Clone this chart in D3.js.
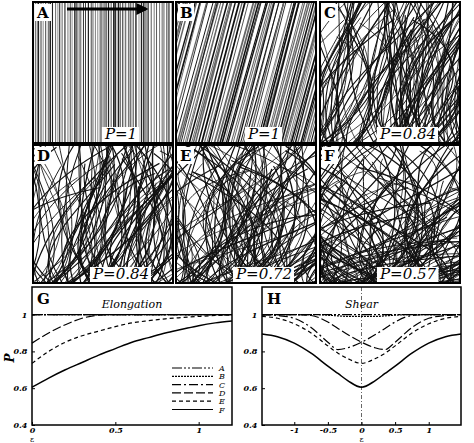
<!DOCTYPE html>
<html><head><meta charset="utf-8">
<script src="https://cdn.jsdelivr.net/npm/d3@7"></script>
<style>body{margin:0;background:#fff}svg,svg text{font-family:"DejaVu Serif","Liberation Serif",serif}</style>
</head><body><svg id="c" width="474" height="443"></svg>
<script>
// ---- data ----
const panels = ["A","B","C","D","E","F"];
const panelP = ["P=1","P=1","P=0.84","P=0.84","P=0.72","P=0.57"];
const seriesNames = ["A","B","C","D","E","F"];
const dashes = ["10,2,2,2,2,2","2,1","9,3,2,3","9,3","4,3",null];
const elongX = [0,0.1,0.2,0.3,0.4,0.5,0.6,0.7,0.8,0.9,1.0,1.1,1.2];
const elongA = [1,1,1,1,1,1,1,1,1,1,1,1,1];
const elongB = [1,1,1,1,1,1,1,1,1,1,1,1,1];
const elongC = [1,1,1,1,1,1,1,1,1,1,1,1,1];
const elongD = [0.845,0.9,0.945,0.98,0.997,1,1,1,1,1,1,1,1];
const elongE = [0.735,0.8,0.85,0.885,0.91,0.935,0.955,0.967,0.977,0.984,0.99,0.995,0.998];
const elongF = [0.605,0.655,0.7,0.74,0.78,0.815,0.85,0.875,0.9,0.92,0.94,0.955,0.965];
const shearX = [-1.48,-1.25,-1,-0.75,-0.5,-0.35,-0.2,0,0.2,0.35,0.5,0.75,1,1.25,1.48];
const shearA = [1,1,1,1,1,1,1,1,1,1,1,1,1,1,1];
const shearB = [1,1,1,1,0.997,0.993,0.99,0.99,0.99,0.993,0.997,1,1,1,1];
const shearC = [1,0.995,0.98,0.93,0.85,0.81,0.82,0.85,0.89,0.925,0.96,0.995,1,1,1];
const shearD = [1,1,1,0.995,0.96,0.925,0.89,0.85,0.82,0.81,0.85,0.93,0.98,0.995,1];
const shearE = [0.99,0.98,0.95,0.9,0.83,0.79,0.76,0.735,0.76,0.79,0.83,0.9,0.95,0.98,0.99];
const shearF = [0.895,0.88,0.845,0.79,0.72,0.68,0.64,0.605,0.64,0.68,0.72,0.79,0.845,0.88,0.895];
const yTicks = [0.4,0.6,0.8,1];
const elongTicks = [0,0.5,1];
const shearTicks = [-1,-0.5,0,0.5,1];

const svg = d3.select("#c");
// seeded generator only for fiber texture
let seed = 12345;
function rnd(){ seed = (seed*1103515245+12345) % 2147483648; return seed/2147483648; }

const cols = [33,176,320], rows=[2,145], pw=140, ph=[141,138];
const defs = svg.append("defs");
panels.forEach((p,i)=>{
  const x0=cols[i%3], y0=rows[Math.floor(i/3)], h=ph[Math.floor(i/3)];
  defs.append("clipPath").attr("id","cp"+i).append("rect").attr("x",x0).attr("y",y0).attr("width",pw).attr("height",h);
  const g=svg.append("g").attr("clip-path","url(#cp"+i+")");
  g.append("rect").attr("x",x0).attr("y",y0).attr("width",pw).attr("height",h).attr("fill","#fff");
  if(i===0){
    for(let x=x0;x<x0+pw;x+=1.6+rnd()*1.6){
      g.append("line").attr("x1",x).attr("x2",x).attr("y1",y0).attr("y2",y0+h)
       .attr("stroke",rnd()<0.5?"#222":"#777").attr("stroke-width",0.6+rnd()*1.2);
    }
  } else if(i===1){
    for(let x=x0-50;x<x0+pw+10;x+=1.5+rnd()*1.8){
      const dx=36+rnd()*4;
      g.append("line").attr("x1",x).attr("x2",x+dx).attr("y1",y0+h).attr("y2",y0)
       .attr("stroke",rnd()<0.5?"#111":"#666").attr("stroke-width",0.6+rnd()*1.2);
    }
  } else {
    const disorder=[0,0,0.35,0.4,0.8,1.1][i];
    const n=[0,0,150,140,170,200][i];
    for(let k=0;k<n;k++){
      const sx=x0-30+rnd()*(pw+50), sy=y0+h+15;
      const ang=0.25+(rnd()-0.5)*disorder*2.2;
      const len=h*(0.9+rnd()*0.8);
      const bend=(rnd()<0.5?-1:1)*(30+rnd()*50)*(0.6+disorder);
      const ex=sx+Math.sin(ang)*len, ey=sy-Math.cos(ang)*len;
      const c1x=sx+(ex-sx)*0.3+bend, c1y=sy+(ey-sy)*0.3;
      const c2x=sx+(ex-sx)*0.7+bend*(rnd()*1.4-0.2), c2y=sy+(ey-sy)*0.7+(rnd()-0.5)*50*disorder;
      g.append("path").attr("d",`M${sx},${sy}C${c1x},${c1y} ${c2x},${c2y} ${ex},${ey}`)
       .attr("fill","none").attr("stroke","#111").attr("stroke-width",0.7+rnd()*0.6);
    }
  }
  svg.append("rect").attr("x",x0).attr("y",y0).attr("width",pw).attr("height",h).attr("fill","none").attr("stroke","#000").attr("stroke-width",2);
  svg.append("rect").attr("x",x0+2).attr("y",y0+2).attr("width",16).attr("height",17).attr("fill","#fff");
  svg.append("text").attr("x",x0+4).attr("y",y0+16).attr("font-weight","bold").attr("font-size",15).text(p);
  const t=svg.append("text").attr("x",x0+pw/2+18).attr("y",y0+h-4).attr("text-anchor","middle").attr("font-style","italic").attr("font-size",15).text(panelP[i]);
  const bb=t.node().getBBox();
  svg.append("rect").attr("x",bb.x-2).attr("y",bb.y+2).attr("width",bb.width+4).attr("height",bb.height-3).attr("fill","#fff");
  t.raise();
});
// arrow in A
defs.append("marker").attr("id","ar").attr("viewBox","0 0 10 10").attr("refX",8).attr("refY",5).attr("markerWidth",4).attr("markerHeight",4).attr("orient","auto")
  .append("path").attr("d","M0,0L10,5L0,10z").attr("fill","#000");
svg.append("line").attr("x1",67).attr("x2",146).attr("y1",9).attr("y2",9).attr("stroke","#000").attr("stroke-width",3).attr("marker-end","url(#ar)");

function plot(x0,x1,xdom,xs,ys,ticks,title,label){
  const top=287,bot=425;
  const x=d3.scaleLinear().domain(xdom).range([x0,x1]);
  const y=d3.scaleLinear().domain([0.4,1.15]).range([bot,top]);
  const g=svg.append("g");
  g.append("rect").attr("x",x0).attr("y",top).attr("width",x1-x0).attr("height",bot-top).attr("fill","#fff").attr("stroke","#000").attr("stroke-width",1.5);
  const ax=g.append("g").attr("transform",`translate(0,${bot})`).call(d3.axisBottom(x).tickValues(ticks).tickSize(-3).tickFormat(d=>d));
  const ay=g.append("g").attr("transform",`translate(${x0},0)`).call(d3.axisLeft(y).tickValues(yTicks).tickSize(-3).tickFormat(d=>d));
  [ax,ay].forEach(a=>{a.select(".domain").remove();a.selectAll("text").attr("font-style","italic").attr("font-weight","bold").attr("font-size",8).attr("font-family","DejaVu Serif");});
  ax.selectAll("text").attr("y",2).attr("dy","0.71em");
  ay.selectAll("text").attr("dx","-0.2em");
  const line=d3.line().x((d,i)=>x(xs[i])).y(d=>y(d)).curve(d3.curveMonotoneX);
  ys.forEach((s,k)=>{
    g.append("path").attr("d",line(s)).attr("fill","none").attr("stroke","#000").attr("stroke-width",k===5?1.5:1.2).attr("stroke-dasharray",dashes[k]);
  });
  g.append("text").attr("x",x0+5).attr("y",top+17).attr("font-weight","bold").attr("font-size",15).text(label);
  g.append("text").attr("x",(x0+x1)/2).attr("y",top+21).attr("text-anchor","middle").attr("font-style","italic").attr("font-size",11).text(title);
  g.append("text").attr("x",x(0)).attr("y",bot+17).attr("text-anchor","middle").attr("font-size",8).text("ε");
  return {x,y};
}
plot(32,232,[0,1.2],elongX,[elongA,elongB,elongC,elongD,elongE,elongF],elongTicks,"Elongation","G");
const h=plot(262,461,[-1.48,1.48],shearX,[shearA,shearB,shearC,shearD,shearE,shearF],shearTicks,"Shear","H");
svg.append("line").attr("x1",h.x(0)).attr("x2",h.x(0)).attr("y1",287).attr("y2",425).attr("stroke","#000").attr("stroke-width",0.6).attr("stroke-dasharray","4,2,1,2");
svg.append("text").attr("transform","translate(14,358) rotate(-90)").attr("text-anchor","middle").attr("font-style","italic").attr("font-weight","bold").attr("font-size",12).text("P");
// legend
seriesNames.forEach((n,k)=>{
  const yy=368+k*8.3;
  svg.append("line").attr("x1",172).attr("x2",213).attr("y1",yy).attr("y2",yy).attr("stroke","#000").attr("stroke-width",1.2).attr("stroke-dasharray",dashes[k]);
  svg.append("text").attr("x",219).attr("y",yy+3).attr("font-style","italic").attr("font-size",8).text(n);
});
</script></body></html>
